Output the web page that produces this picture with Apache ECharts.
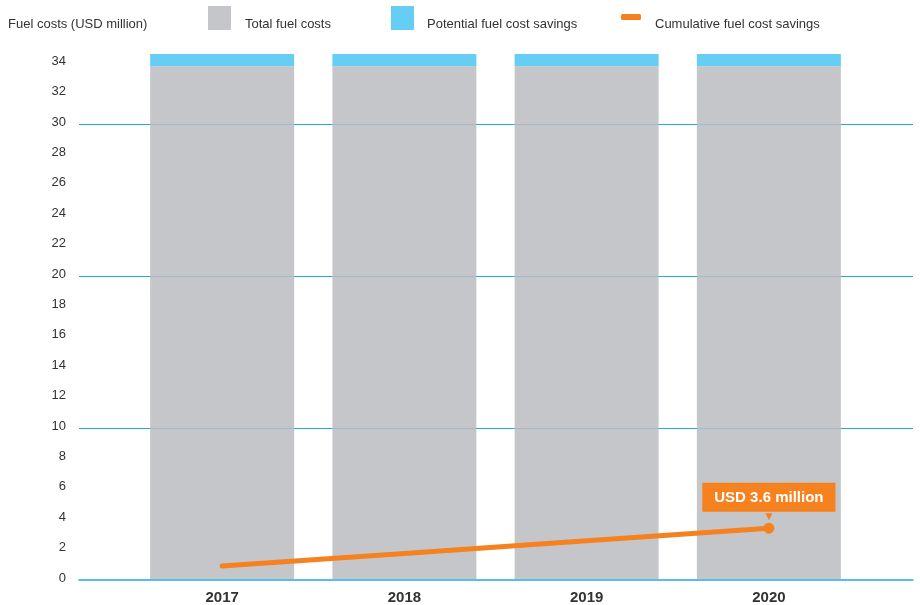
<!DOCTYPE html>
<html>
<head>
<meta charset="utf-8">
<script src="https://cdn.jsdelivr.net/npm/echarts@6/dist/echarts.min.js"></script>
<style>
  html, body { margin: 0; padding: 0; background: #fff; }
  #chart { width: 920px; height: 605px; }
</style>
</head>
<body>
<div id="chart"></div>
<script>
// data
const years = ["2017", "2018", "2019", "2020"];
const totalFuelCosts = [33.8, 33.8, 33.8, 33.8];
const potentialSavings = [0.8, 0.8, 0.8, 0.8];
const cumulativeSavings = [0.85, 1.68, 2.52, 3.35];
const gridValues = [10, 20, 30];
const calloutText = "USD 3.6 million";

const FONT = "Liberation Sans, Arial, sans-serif";
const BLUE_LINE = "#22a8e1";
const ORANGE = "#f5821f";
const LIGHT_BLUE = "#66cdf3";

const chart = echarts.init(document.getElementById("chart"));

// y axis: ticks every 2 up to 35, split lines only at the grid values
const Y_MAX = 35, Y_STEP = 2;
const splitColors = [];
for (let v = 0; v <= Y_MAX; v += Y_STEP) {
  splitColors.push(gridValues.includes(v) ? BLUE_LINE : "rgba(0,0,0,0)");
}
splitColors.push("rgba(0,0,0,0)"); // max tick

const lineData = cumulativeSavings.map((v, i) => {
  const last = i === cumulativeSavings.length - 1;
  return last
    ? {
        value: v,
        symbol: "circle",
        symbolSize: 11,
        label: {
          show: true,
          position: "top",
          distance: 1,
          formatter: "{box|" + calloutText + "}\n{arr|▼}",
          rich: {
            box: {
              backgroundColor: ORANGE,
              color: "#fff",
              fontFamily: FONT,
              fontWeight: "bold",
              fontSize: 15,
              padding: [8, 12, 6, 12],
              align: "center",
            },
            arr: {
              color: ORANGE,
              fontSize: 12,
              lineHeight: 10,
              align: "center",
            },
          },
        },
      }
    : { value: v, symbol: "none" };
});

const textTitle = (text, left) => ({
  text, left, top: 13,
  textStyle: { fontSize: 13, fontWeight: "normal", color: "#333", fontFamily: FONT },
});

const option = {
  animation: false,
  textStyle: { fontFamily: FONT },
  title: [
    textTitle("Fuel costs (USD million)", 3),
    textTitle("Total fuel costs", 240),
    textTitle("Potential fuel cost savings", 422),
    textTitle("Cumulative fuel cost savings", 650),
  ],
  legend: [
    {
      left: 203, top: 1, itemWidth: 23, itemHeight: 24, icon: "rect",
      data: ["Total fuel costs"], formatter: () => "",
    },
    {
      left: 386, top: 1, itemWidth: 23, itemHeight: 24, icon: "rect",
      data: ["Potential fuel cost savings"], formatter: () => "",
    },
    {
      left: 616, top: 9, itemWidth: 20, itemHeight: 6, icon: "roundRect",
      data: ["Cumulative fuel cost savings"], formatter: () => "",
    },
  ],
  // 35 units over 532 px -> grid lines land on whole pixels
  grid: [
    { left: 79, right: 7, top: 48, bottom: 25 },
    { left: 131, right: 60, top: 48, bottom: 25 },
  ],
  xAxis: [
    {
      gridIndex: 0, type: "value", min: 0, max: 1, z: 5,
      axisLine: { show: true, lineStyle: { color: BLUE_LINE, width: 1.5 } },
      axisTick: { show: false }, axisLabel: { show: false }, splitLine: { show: false },
    },
    {
      gridIndex: 1, type: "category", data: years,
      axisLine: { show: false }, axisTick: { show: false },
      axisLabel: { fontSize: 15, fontWeight: "bold", color: "#333", margin: 11 },
    },
  ],
  yAxis: [
    {
      gridIndex: 0, type: "value", min: 0, max: Y_MAX, interval: Y_STEP,
      axisLine: { show: false }, axisTick: { show: false },
      splitLine: { show: true, lineStyle: { color: splitColors, width: 1 } },
      axisLabel: {
        fontSize: 13, color: "#333", margin: 13, showMaxLabel: false,
        verticalAlign: "bottom", lineHeight: 4,
      },
    },
    {
      gridIndex: 1, type: "value", min: 0, max: Y_MAX,
      show: false, splitLine: { show: false },
    },
  ],
  series: [
    {
      name: "Total fuel costs", type: "bar", stack: "fuel",
      xAxisIndex: 1, yAxisIndex: 1, barWidth: 144, z: 2,
      itemStyle: { color: "#bcbdc0", opacity: 0.86 },
      data: totalFuelCosts,
    },
    {
      name: "Potential fuel cost savings", type: "bar", stack: "fuel",
      xAxisIndex: 1, yAxisIndex: 1, barWidth: 144, z: 2,
      itemStyle: { color: LIGHT_BLUE },
      data: potentialSavings,
    },
    {
      name: "Cumulative fuel cost savings", type: "line",
      xAxisIndex: 1, yAxisIndex: 1, z: 4,
      lineStyle: { color: ORANGE, width: 5, cap: "round" },
      itemStyle: { color: ORANGE },
      symbol: "circle", symbolSize: 11,
      data: lineData,
    },
  ],
};

chart.setOption(option);
</script>
</body>
</html>
